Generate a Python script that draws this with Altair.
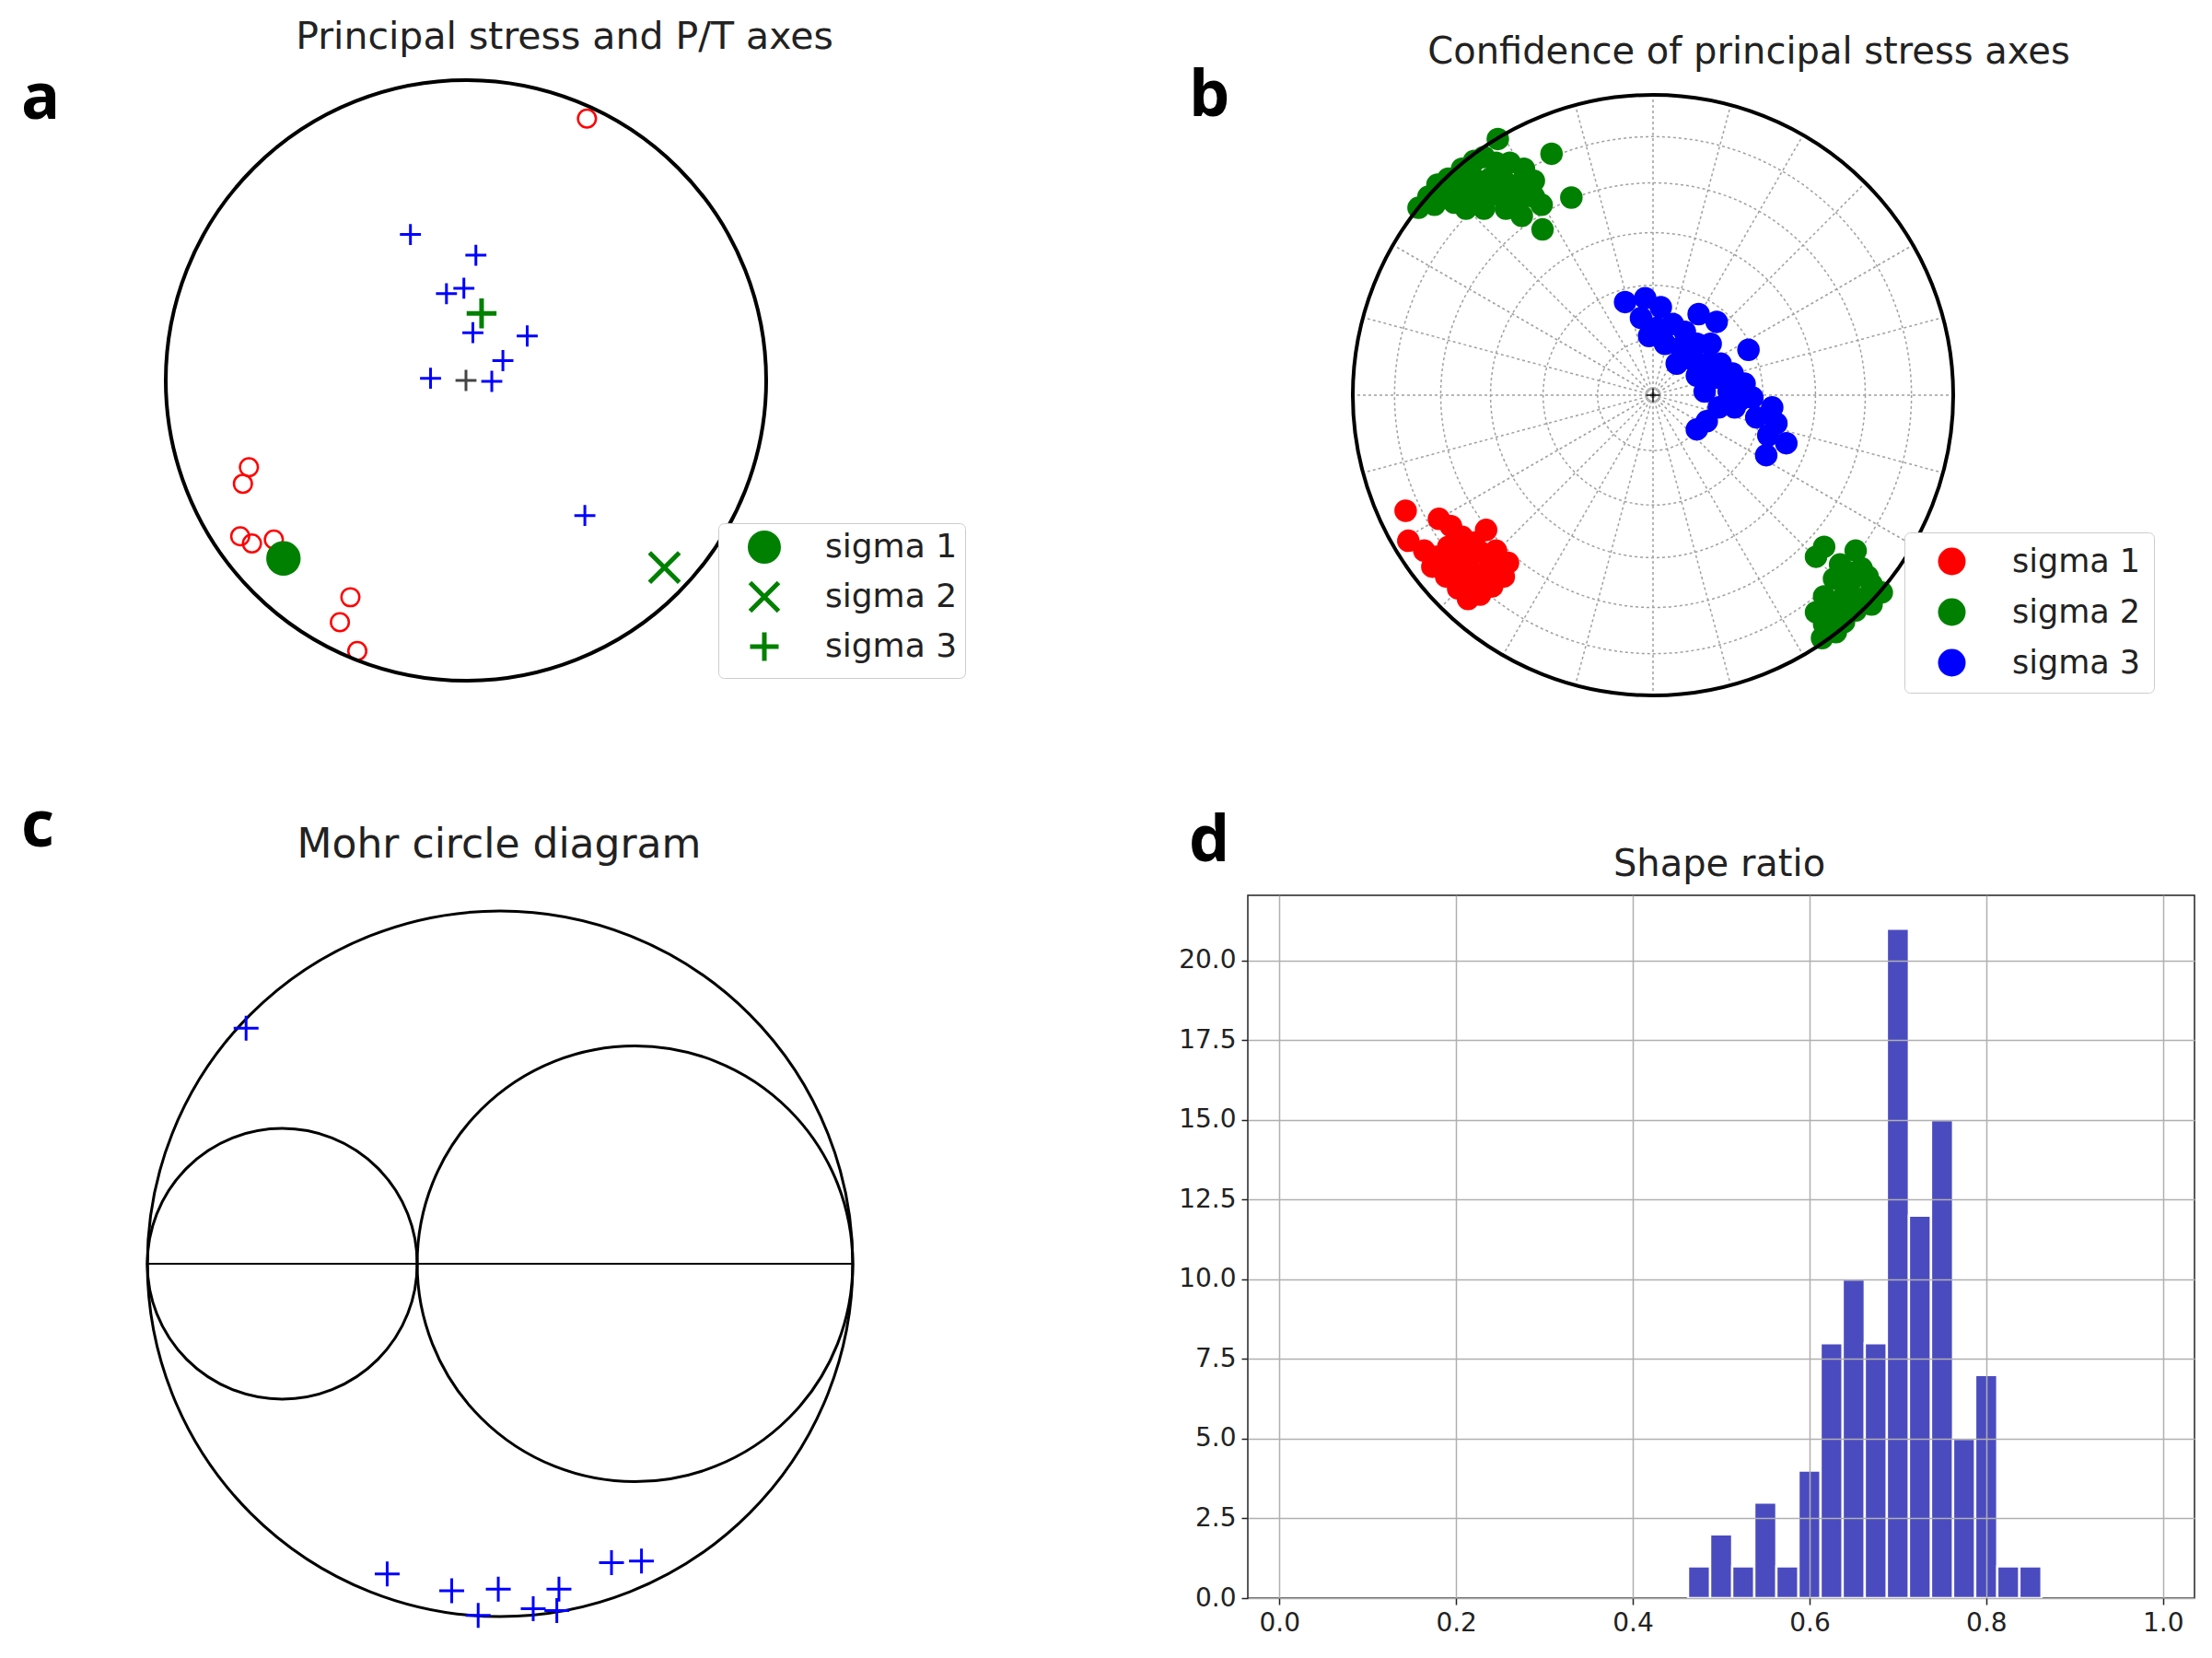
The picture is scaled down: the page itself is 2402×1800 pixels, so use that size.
import math
import altair as alt
import pandas as pd

# ------------------------------------------------------------------ data
panel_letters = ["a", "b", "c", "d"]
panel_titles = ["Principal stress and P/T axes", "Confidence of principal stress axes",
                "Mohr circle diagram", "Shape ratio"]
sigma_labels = ["sigma 1", "sigma 2", "sigma 3"]

# (a) P / T axes and principal stresses, unit-circle projection coordinates
p_axes_x = [0.403, -0.723, -0.743, -0.752, -0.713, -0.640, -0.385, -0.420, -0.362]
p_axes_y = [0.872, -0.289, -0.344, -0.519, -0.543, -0.530, -0.722, -0.805, -0.901]
t_axes_x = [-0.185, 0.033, -0.065, -0.007, 0.023, 0.204, 0.123, 0.086, -0.118, 0.396]
t_axes_y = [0.486, 0.417, 0.289, 0.307, 0.159, 0.148, 0.066, -0.003, 0.007, -0.450]
sigma_x = [-0.608, 0.661, 0.052]
sigma_y = [-0.593, -0.623, 0.223]

# (b) confidence clouds of principal stress axes
s1_x = [-0.824, -0.815, -0.713, -0.673, -0.556, -0.762, -0.722, -0.682, -0.636, -0.596,
        -0.623, -0.570, -0.523, -0.483, -0.497, -0.536, -0.576, -0.616, -0.649, -0.689,
        -0.735, -0.662, -0.609, -0.556, -0.583, -0.636, -0.702, -0.523]
s1_y = [-0.385, -0.485, -0.412, -0.436, -0.449, -0.518, -0.538, -0.505, -0.472, -0.491,
        -0.525, -0.525, -0.518, -0.558, -0.604, -0.637, -0.664, -0.679, -0.644, -0.604,
        -0.571, -0.564, -0.584, -0.591, -0.630, -0.611, -0.571, -0.571]
s2_x = [-0.517, -0.338, -0.272, -0.368, -0.437, -0.781, -0.748, -0.718, -0.682, -0.636,
        -0.596, -0.563, -0.523, -0.477, -0.430, -0.397, -0.450, -0.497, -0.543, -0.596,
        -0.642, -0.689, -0.728, -0.662, -0.609, -0.556, -0.503, -0.450, -0.397, -0.371,
        -0.563, -0.490, -0.623,
        0.570, 0.675, 0.623, 0.695, 0.603, 0.656, 0.728, 0.762, 0.570, 0.636,
        0.702, 0.543, 0.609, 0.675, 0.728, 0.570, 0.636, 0.563, 0.609, 0.656,
        0.543, 0.715]
s2_y = [0.853, 0.804, 0.658, 0.552, 0.597, 0.624, 0.661, 0.701, 0.721, 0.754,
        0.780, 0.793, 0.774, 0.774, 0.754, 0.714, 0.701, 0.714, 0.721, 0.721,
        0.701, 0.674, 0.634, 0.641, 0.661, 0.668, 0.661, 0.641, 0.661, 0.634,
        0.621, 0.621, 0.621,
        -0.505, -0.518, -0.564, -0.577, -0.611, -0.624, -0.630, -0.657, -0.670, -0.670,
        -0.677, -0.723, -0.717, -0.717, -0.697, -0.763, -0.756, -0.809, -0.789, -0.591,
        -0.538, -0.604]
s3_x = [-0.093, -0.026, 0.026, 0.152, 0.212, 0.318, -0.040, 0.013, 0.066, 0.106,
        0.040, 0.093, 0.146, 0.192, 0.132, 0.179, 0.225, 0.079, 0.146, 0.212,
        0.265, 0.305, 0.252, 0.331, 0.219, 0.272, 0.397, 0.411, 0.384, 0.444,
        0.377, 0.146, 0.179, 0.344, 0.291, -0.013, 0.172]
s3_y = [0.310, 0.323, 0.293, 0.270, 0.244, 0.151, 0.257, 0.224, 0.237, 0.211,
        0.171, 0.158, 0.171, 0.171, 0.118, 0.105, 0.105, 0.105, 0.065, 0.058,
        0.072, 0.038, 0.012, -0.008, -0.041, -0.041, -0.041, -0.094, -0.134, -0.160,
        -0.200, -0.114, -0.087, -0.074, -0.015, 0.197, 0.012]
grid_plunges = [15, 30, 45, 60, 75]
grid_azimuths = [0, 15, 30, 45, 60, 75, 90, 105, 120, 135, 150, 165,
                 180, 195, 210, 225, 240, 255, 270, 285, 300, 315, 330, 345]

# (c) Mohr circle: normalised principal stresses and plane points
principal = [-1.0, -0.235, 1.0]
mohr_x = [-0.720, -0.320, -0.137, -0.005, -0.062, 0.094, 0.167, 0.161, 0.316, 0.401]
mohr_y = [0.668, -0.879, -0.927, -0.922, -0.997, -0.978, -0.922, -0.983, -0.847, -0.843]

# (d) shape ratio histogram
bin_left = [0.4625, 0.4875, 0.5125, 0.5375, 0.5625, 0.5875, 0.6125, 0.6375,
            0.6625, 0.6875, 0.7125, 0.7375, 0.7625, 0.7875, 0.8125, 0.8375]
bin_count = [1, 2, 1, 3, 1, 4, 8, 10, 8, 21, 12, 15, 5, 7, 1, 1]
bin_width = 0.025
x_ticks = [0.0, 0.2, 0.4, 0.6, 0.8, 1.0]
y_ticks = [0.0, 2.5, 5.0, 7.5, 10.0, 12.5, 15.0, 17.5, 20.0]

# ------------------------------------------------------------------ layout (page px)
L1, R1, L2, R2 = 16, 1086, 1354, 2382
T1, B1, T2, B2 = 75, 790, 971, 1734
A_CX, A_CY, A_R = 505, 412, 326
B_CX, B_CY, B_R = 1794, 428, 326
C_CX, C_CY, C_R = 542, 1371, 383


def xdom(l, r, c, s):
    return [(l - c) / s, (r - c) / s]


def ydom(t, b, c, s):
    return [(c - b) / s, (c - t) / s]


TXT = "#222222"
FONT = "DejaVu Sans"
PLUS = "M-1,0L1,0M0,-1L0,1"
XMARK = "M-1,-1L1,1M-1,1L1,-1"


def xy(xs, ys, xf="x", yf="y"):
    return dict(x=alt.X(f"{xf}:Q", scale=xs, axis=None),
                y=alt.Y(f"{yf}:Q", scale=ys, axis=None))


def letter_layer(ch, px, py):
    return alt.Chart(pd.DataFrame({"letter": [ch]})).mark_text(
        align="left", baseline="alphabetic", font="Open Sans", fontWeight="bold",
        fontSize=70, color="black"
    ).encode(text="letter:N", x=alt.value(px), y=alt.value(py))


def title_layer(text, size, px, py):
    return alt.Chart(pd.DataFrame({"t": [text]})).mark_text(
        align="center", baseline="alphabetic", font=FONT, fontSize=size, color=TXT
    ).encode(text="t:N", x=alt.value(px), y=alt.value(py))


def ring_layer(df, xs, ys, px_per_unit, pre=None, **style):
    # circles drawn as symbols whose diameter is 2 * radius in the panel's scale
    base = alt.Chart(df)
    if pre:
        base = base.transform_calculate(**pre)
    return base.transform_calculate(
        sz=f"pow(2 * {px_per_unit} * datum.r, 2)"
    ).mark_point(shape="circle", filled=False, opacity=1, **style).encode(
        **xy(xs, ys), size=alt.Size("sz:Q", scale=None))


origin = pd.DataFrame({"x": [0.0], "y": [0.0], "r": [1.0]})

# ------------------------------------------------------------------ panel a
ax_s = alt.Scale(domain=xdom(L1, R1, A_CX, A_R), nice=False, zero=False)
ay_s = alt.Scale(domain=ydom(T1, B1, A_CY, A_R), nice=False, zero=False)

a_circle = ring_layer(origin, ax_s, ay_s, A_R, color="black", strokeWidth=4)
a_p = alt.Chart(pd.DataFrame({"x": p_axes_x, "y": p_axes_y})).mark_point(
    shape="circle", filled=False, color="red", strokeWidth=2.5, size=380, opacity=1
).encode(**xy(ax_s, ay_s))
a_t = alt.Chart(pd.DataFrame({"x": t_axes_x, "y": t_axes_y})).mark_point(
    shape=PLUS, filled=False, color="blue", strokeWidth=3, size=520, opacity=1
).encode(**xy(ax_s, ay_s))
a_center = alt.Chart(origin).mark_point(
    shape=PLUS, filled=False, color="#444444", strokeWidth=3, size=520, opacity=1
).encode(**xy(ax_s, ay_s))

leg_a = alt.Legend(orient="none", legendX=763, legendY=492, title=None,
                   labelFontSize=36, labelFont=FONT, labelColor=TXT, labelLimit=400,
                   padding=8, rowPadding=2, symbolOffset=24, labelOffset=48,
                   symbolSize=961, symbolStrokeWidth=5,
                   strokeColor="#cccccc", fillColor="white", cornerRadius=6)
a_sig = alt.Chart(pd.DataFrame({"label": sigma_labels, "x": sigma_x, "y": sigma_y})).mark_point(
    strokeWidth=5, opacity=1, size=1050
).encode(
    **xy(ax_s, ay_s),
    shape=alt.Shape("label:N", scale=alt.Scale(domain=sigma_labels, range=["circle", XMARK, PLUS]), legend=leg_a),
    fill=alt.Fill("label:N", scale=alt.Scale(domain=sigma_labels, range=["green", "transparent", "transparent"]), legend=leg_a),
    stroke=alt.Stroke("label:N", scale=alt.Scale(domain=sigma_labels, range=["green", "green", "green"]), legend=leg_a),
)

panel_a = alt.layer(
    a_p, a_t, a_center, a_sig, a_circle,
    letter_layer(panel_letters[0], 6, 128 - T1),
    title_layer(panel_titles[0], 41, 612 - L1, 52 - T1),
).properties(width=R1 - L1, height=B1 - T1)

# ------------------------------------------------------------------ panel b
bx_s = alt.Scale(domain=xdom(L2, R2, B_CX, B_R), nice=False, zero=False)
by_s = alt.Scale(domain=ydom(T1, B1, B_CY, B_R), nice=False, zero=False)

GRID = dict(strokeWidth=1.5, strokeDash=[3, 3])
b_spokes = alt.Chart(pd.DataFrame({"az": grid_azimuths})).transform_calculate(
    x="0", y="0",
    x2="sin(datum.az * PI / 180)", y2="cos(datum.az * PI / 180)"
).mark_rule(color="#a0a0a0", **GRID).encode(**xy(bx_s, by_s), x2="x2:Q", y2="y2:Q")
# equal-area projection of the plunge grid circles
b_rings = ring_layer(
    pd.DataFrame({"plunge": grid_plunges}), bx_s, by_s, B_R,
    pre=dict(x="0", y="0", r="sqrt(2) * sin((90 - datum.plunge) / 2 * PI / 180)"),
    color="#a0a0a0", **GRID)
b_circle = ring_layer(origin, bx_s, by_s, B_R, color="black", strokeWidth=4)
b_center = alt.Chart(origin).mark_point(
    shape=PLUS, filled=False, color="black", strokeWidth=1.5, size=225, opacity=1
).encode(**xy(bx_s, by_s))

cloud = pd.concat([
    pd.DataFrame({"label": sigma_labels[0], "x": s1_x, "y": s1_y}),
    pd.DataFrame({"label": sigma_labels[1], "x": s2_x, "y": s2_y}),
    pd.DataFrame({"label": sigma_labels[2], "x": s3_x, "y": s3_y}),
], ignore_index=True)
leg_b = alt.Legend(orient="none", legendX=713, legendY=502, title=None,
                   labelFontSize=35, labelFont=FONT, labelColor=TXT, labelLimit=400,
                   padding=14, rowPadding=19, symbolOffset=20, labelOffset=48,
                   symbolSize=900, symbolType="circle", symbolOpacity=1,
                   strokeColor="#cccccc", fillColor="white", cornerRadius=6)
b_dots = alt.Chart(cloud).mark_circle(size=600, opacity=1).encode(
    **xy(bx_s, by_s),
    color=alt.Color("label:N", scale=alt.Scale(domain=sigma_labels, range=["red", "green", "blue"]), legend=leg_b),
)

panel_b = alt.layer(
    b_spokes, b_rings, b_center, b_dots, b_circle,
    letter_layer(panel_letters[1], -64, 125 - T1),
    title_layer(panel_titles[1], 40, 1898 - L2, 68 - T1),
).properties(width=R2 - L2, height=B1 - T1)

# ------------------------------------------------------------------ panel c
cx_s = alt.Scale(domain=xdom(L1, R1, C_CX, C_R), nice=False, zero=False)
cy_s = alt.Scale(domain=ydom(T2, B2, C_CY, C_R), nice=False, zero=False)

pairs = [(0, 2), (0, 1), (1, 2)]
mohr_circles = pd.DataFrame({
    "x": [(principal[i] + principal[j]) / 2 for i, j in pairs],
    "y": [0.0, 0.0, 0.0],
    "r": [(principal[j] - principal[i]) / 2 for i, j in pairs],
})
c_circles = ring_layer(mohr_circles, cx_s, cy_s, C_R, color="black", strokeWidth=3)
c_axis = alt.Chart(pd.DataFrame({"x": [principal[0]], "x2": [principal[2]], "y": [0.0]})).mark_rule(
    color="black", strokeWidth=2
).encode(**xy(cx_s, cy_s), x2="x2:Q")
c_pts = alt.Chart(pd.DataFrame({"x": mohr_x, "y": mohr_y})).mark_point(
    shape=PLUS, filled=False, color="blue", strokeWidth=3, size=729, opacity=1
).encode(**xy(cx_s, cy_s))

panel_c = alt.layer(
    c_axis, c_circles, c_pts,
    letter_layer(panel_letters[2], 6, 918 - T2),
    title_layer(panel_titles[2], 44, 541 - L1, 930 - T2),
).properties(width=R1 - L1, height=B2 - T2)

# ------------------------------------------------------------------ panel d
AX = dict(format=".1f", labelFont=FONT, labelFontSize=28, labelColor=TXT, labelFlush=False,
          labelOverlap=False, tickColor=TXT, tickSize=7, tickWidth=1.5, domain=False,
          grid=True, gridColor="#b0b0b0", gridWidth=1.5, labelPadding=6, title=None, zindex=1)
hist = pd.DataFrame({"left": bin_left, "count": bin_count})
d_bars = alt.Chart(hist).transform_calculate(
    right=f"datum.left + {bin_width}", base="0"
).mark_rect(fill="#4b4bc0", stroke="white", strokeWidth=2.5).encode(
    x=alt.X("left:Q", scale=alt.Scale(domain=[-0.0357, 1.0357], nice=False, zero=False),
            axis=alt.Axis(values=x_ticks, **AX)),
    x2="right:Q",
    y=alt.Y("count:Q", scale=alt.Scale(domain=[0, 22.05], nice=False),
            axis=alt.Axis(values=y_ticks, **AX)),
    y2="base:Q",
)
panel_d = alt.layer(
    d_bars,
    letter_layer(panel_letters[3], -64, 934 - T2),
    title_layer(panel_titles[3], 40, 1866 - L2, 950 - T2),
).properties(width=R2 - L2, height=B2 - T2,
             view=alt.ViewBackground(stroke="#222222", strokeWidth=1.5))

# ------------------------------------------------------------------ assemble
chart = alt.concat(
    panel_a, panel_b, panel_c, panel_d,
    columns=2, bounds="flush",
    spacing={"row": T2 - B1, "column": L2 - R1},
).resolve_scale(
    x="independent", y="independent", color="independent", fill="independent",
    stroke="independent", shape="independent", size="independent",
).resolve_legend(
    color="independent", fill="independent", stroke="independent", shape="independent",
).properties(
    padding={"left": 8, "top": 11, "right": 0, "bottom": 0}, background="white"
).configure_view(stroke="transparent")

chart.save("out.html", embed_options={"renderer": "svg", "actions": False})
